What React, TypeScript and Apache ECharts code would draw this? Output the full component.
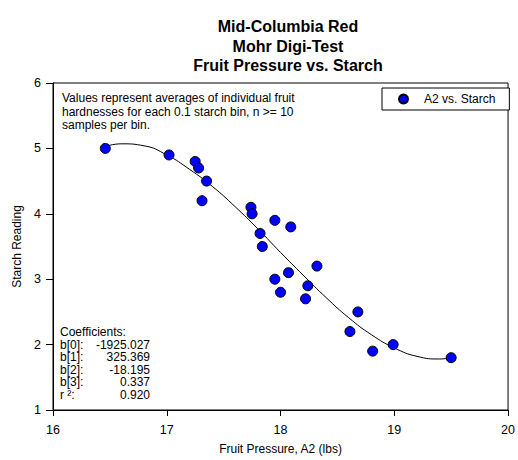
import React, { useEffect, useRef } from "react";
import * as echarts from "echarts";

// ---- data ----
const titleLines = ["Mid-Columbia Red", "Mohr Digi-Test", "Fruit Pressure vs. Starch"];
const seriesName = "A2 vs. Starch";
const xAxisName = "Fruit Pressure, A2 (lbs)";
const yAxisName = "Starch Reading";

// measured points: fruit pressure (lbs) and starch reading (bins of 0.1)
const pressure = [16.46, 17.02, 17.25, 17.28, 17.35, 17.31, 17.74, 17.75, 17.95, 18.09, 17.82, 17.84, 18.32, 18.07, 17.95, 18.24, 18.0, 18.22, 18.68, 18.61, 18.81, 18.99, 19.5];
const starch = [5.0, 4.9, 4.8, 4.7, 4.5, 4.2, 4.1, 4.0, 3.9, 3.8, 3.7, 3.5, 3.2, 3.1, 3.0, 2.9, 2.8, 2.7, 2.5, 2.2, 1.9, 2.0, 1.8];

// fitted cubic curve
const fitX = [16.46, 16.6, 16.8, 17.0, 17.2, 17.4, 17.6, 17.8, 18.0, 18.2, 18.4, 18.6, 18.8, 19.0, 19.2, 19.4, 19.5];
const fitY = [5.03, 5.07, 5.04, 4.9, 4.68, 4.42, 4.11, 3.77, 3.41, 3.06, 2.72, 2.41, 2.15, 1.95, 1.82, 1.78, 1.8];

const noteLines = [
  "Values represent averages of individual fruit",
  "hardnesses for each 0.1 starch bin, n >= 10",
  "samples per bin.",
];
const coefHeader = "Coefficients:";
const coefLabels = ["b[0]:", "b[1]:", "b[2]:", "b[3]:", "r \u00b2:"];
const coefValues = ["-1925.027", "325.369", "-18.195", "0.337", "0.920"];

const FONT = "'Liberation Sans', Arial, Helvetica, sans-serif";

export default function App() {
  const ref = useRef<HTMLDivElement>(null);

  useEffect(() => {
    if (!ref.current) return;
    const chart = echarts.init(ref.current, null, { renderer: "svg" });

    const textEls: any[] = [];
    noteLines.forEach((t, i) => {
      textEls.push({
        type: "text",
        x: 62,
        y: 98 + i * 13.5,
        style: { text: t, fill: "#000", font: `12px ${FONT}`, align: "left", verticalAlign: "middle" },
      });
    });
    textEls.push({
      type: "text",
      x: 60,
      y: 332,
      style: { text: coefHeader, fill: "#000", font: `12px ${FONT}`, align: "left", verticalAlign: "middle" },
    });
    coefLabels.forEach((t, i) => {
      textEls.push({
        type: "text",
        x: 60,
        y: 344.6 + i * 12.6,
        style: { text: t, fill: "#000", font: `12px ${FONT}`, align: "left", verticalAlign: "middle" },
      });
    });
    coefValues.forEach((t, i) => {
      textEls.push({
        type: "text",
        x: 150,
        y: 344.6 + i * 12.6,
        style: { text: t, fill: "#000", font: `12px ${FONT}`, align: "right", verticalAlign: "middle" },
      });
    });

    chart.setOption({
      animation: false,
      backgroundColor: "#fff",
      textStyle: { fontFamily: FONT, color: "#000" },
      title: {
        text: titleLines.join("\n"),
        left: 283,
        top: 12,
        textAlign: "center",
        textStyle: { fontSize: 16, fontWeight: "bold", lineHeight: 19.5, color: "#000", fontFamily: FONT },
      },
      legend: {
        data: [seriesName],
        left: 382,
        top: 88,
        orient: "vertical",
        icon: "circle",
        itemWidth: 9,
        itemHeight: 9,
        padding: [5, 14, 5, 16],
        borderColor: "#000",
        borderWidth: 1,
        backgroundColor: "#fff",
        textStyle: { fontSize: 12, color: "#000", fontFamily: FONT, padding: [0, 0, 0, 11] },
      },
      grid: {
        left: 53,
        top: 83,
        right: 6,
        bottom: 49,
        show: true,
        borderColor: "#000",
        borderWidth: 1,
        backgroundColor: "transparent",
      },
      xAxis: {
        type: "value",
        min: 16,
        max: 20,
        interval: 1,
        name: xAxisName,
        nameLocation: "middle",
        nameGap: 33,
        nameTextStyle: { fontSize: 12, color: "#000", fontFamily: FONT },
        axisLine: { show: true, onZero: false, lineStyle: { color: "#000", width: 1 } },
        axisTick: { show: true, length: 6, lineStyle: { color: "#000" } },
        axisLabel: { fontSize: 12.5, color: "#000", margin: 13, fontFamily: FONT },
        splitLine: { show: false },
      },
      yAxis: {
        type: "value",
        min: 1,
        max: 6,
        interval: 1,
        name: yAxisName,
        nameLocation: "middle",
        nameGap: 29,
        nameTextStyle: { fontSize: 12, color: "#000", fontFamily: FONT },
        axisLine: { show: true, onZero: false, lineStyle: { color: "#000", width: 1 } },
        axisTick: { show: true, length: 7, lineStyle: { color: "#000" } },
        axisLabel: { fontSize: 12.5, color: "#000", margin: 12, fontFamily: FONT },
        splitLine: { show: false },
      },
      series: [
        {
          name: "fit",
          type: "line",
          data: fitX.map((x, i) => [x, fitY[i]]),
          showSymbol: false,
          symbol: "none",
          smooth: true,
          lineStyle: { color: "#000", width: 1 },
          z: 2,
        },
        {
          name: seriesName,
          type: "scatter",
          data: pressure.map((x, i) => [x, starch[i]]),
          symbol: "circle",
          symbolSize: 10,
          itemStyle: { color: "#0000ff", borderColor: "#000", borderWidth: 1, opacity: 1 },
          z: 3,
        },
      ],
      graphic: textEls,
    });

    return () => chart.dispose();
  }, []);

  return (
    <div
      ref={ref}
      style={{ position: "absolute", left: 0, top: 0, width: 518, height: 460, background: "#fff" }}
    />
  );
}
